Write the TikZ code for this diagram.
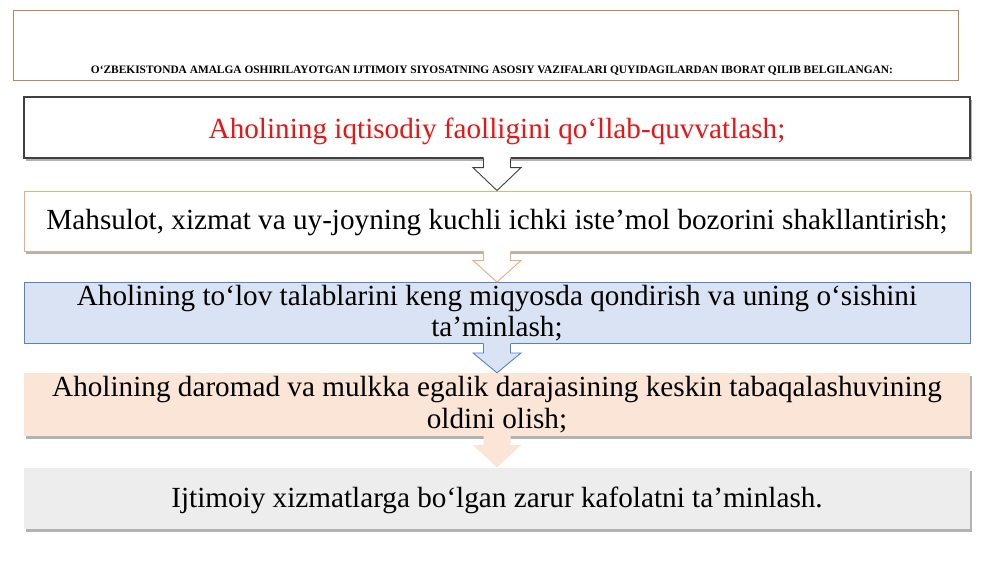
\documentclass[tikz,border=0pt]{standalone}
\usepackage{fontspec}
\setmainfont{Liberation Serif}
\usetikzlibrary{calc,shadows}
\definecolor{titleborder}{RGB}{197,132,92}
\definecolor{darkborder}{RGB}{64,64,64}
\definecolor{orangeborder}{RGB}{240,170,125}
\definecolor{bluefill}{RGB}{218,227,243}
\definecolor{blueborder}{RGB}{86,130,196}
\definecolor{peachfill}{RGB}{251,229,214}
\definecolor{grayfill}{RGB}{237,237,237}
\definecolor{redtext}{RGB}{235,20,20}
\tikzset{
  box/.style={rectangle, minimum width=946pt, minimum height=61pt, inner sep=0pt,
    align=center, font=\fontsize{29.2}{31.5}\selectfont},
  shad/.style={drop shadow={shadow xshift=2pt, shadow yshift=-3pt, fill=black!55, opacity=.55}},
  barrow/.style={line width=0.9pt, line join=miter},
}
\newcommand{\lowered}[2]{\raisebox{-#1}[\height][\depth]{#2}}
% #1 from node, #2 to node, #3 fill colour, #4 outline style
\newcommand{\blockarrow}[4]{%
  \fill[#3] let \p1=(#1.south), \p2=(#2.north) in
    (\x1-13.5pt,\y1+2pt) -- (\x1-13.5pt,\y1-9pt) -- (\x1-24pt,\y1-9pt) --
    (\x1,\y2) -- (\x1+24pt,\y1-9pt) -- (\x1+13.5pt,\y1-9pt) -- (\x1+13.5pt,\y1+2pt) -- cycle;
  \draw[#4] let \p1=(#1.south), \p2=(#2.north) in
    (\x1-13.5pt,\y1) -- (\x1-13.5pt,\y1-9pt) -- (\x1-24pt,\y1-9pt) --
    (\x1,\y2) -- (\x1+24pt,\y1-9pt) -- (\x1+13.5pt,\y1-9pt) -- (\x1+13.5pt,\y1);}
\begin{document}
\begin{tikzpicture}[x=1pt,y=-1pt]
\useasboundingbox[fill=white] (0,0) rectangle (1000,562);
% title
\node[rectangle, draw=titleborder, line width=0.9pt, minimum width=945pt, minimum height=70pt, inner sep=0pt] (title) at (485.5,45) {};
\node[inner sep=0pt, anchor=center] (titletext) at (492,71) {\resizebox{802pt}{!}{\bfseries O‘ZBEKISTONDA AMALGA OSHIRILAYOTGAN IJTIMOIY SIYOSATNING ASOSIY VAZIFALARI QUYIDAGILARDAN IBORAT QILIB BELGILANGAN:}};
% boxes
\node[box, shad, fill=white, draw=darkborder, line width=1.2pt, text=redtext] (b1) at (497,127.5) {\lowered{3.5pt}{Aholining iqtisodiy faolligini qo‘llab-quvvatlash;}};
\node[box, shad, fill=white, draw=orangeborder, line width=0.9pt, minimum height=60pt] (b2) at (497,221) {\lowered{2pt}{Mahsulot, xizmat va uy-joyning kuchli ichki iste’mol bozorini shakllantirish;}};
\node[box, fill=bluefill, draw=blueborder, line width=0.9pt, minimum height=61pt] (b3) at (497,313) {Aholining to‘lov talablarini keng miqyosda qondirish va uning o‘sishini\\ta’minlash;};
\node[box, shad, fill=peachfill, minimum height=63pt] (b4) at (497,404.5) {Aholining daromad va mulkka egalik darajasining keskin tabaqalashuvining\\oldini olish;};
\node[box, shad, fill=grayfill, minimum height=61pt] (b5) at (497,498) {\lowered{2pt}{Ijtimoiy xizmatlarga bo‘lgan zarur kafolatni ta’minlash.}};
% arrows
\blockarrow{b1}{b2}{white}{barrow, draw=darkborder}
\blockarrow{b2}{b3}{white}{barrow, draw=orangeborder}
\blockarrow{b3}{b4}{bluefill}{barrow, draw=blueborder}
\blockarrow{b4}{b5}{peachfill}{draw=none}
\end{tikzpicture}
\end{document}
